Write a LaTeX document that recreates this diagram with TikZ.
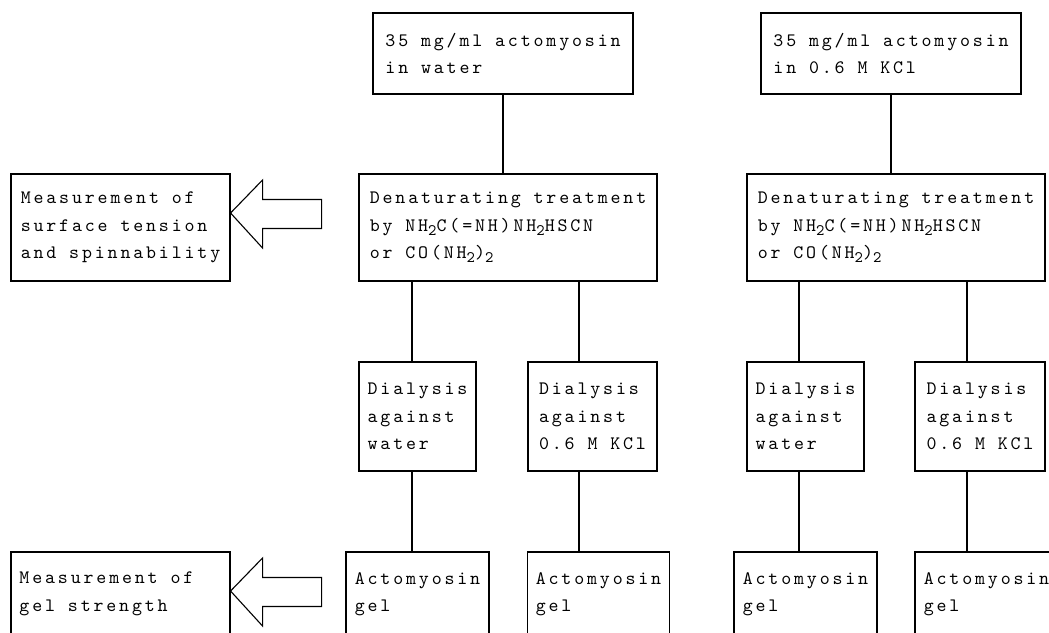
\documentclass[tikz,border=0pt]{standalone}
\usepackage{fontspec}
\usepackage{tikz}
\newfontfamily\boxfont{lmmono10-regular.otf}[LetterSpace=15]
\newcommand{\sbs}[1]{\raisebox{-0.5ex}{\fontsize{16}{16}\selectfont #1}}

\begin{document}
\begin{tikzpicture}[x = 1pt, y = 1pt, line width = 1.1pt,
    box/.style = {rectangle, draw, align = left, inner xsep = 8.5pt, inner ysep = 0pt,
        font = \boxfont\fontsize{19}{27.5}\selectfont}]
\useasboundingbox (0,0) rectangle (1049,-632);
\draw (503,-53.5) node[box, minimum width = 260, minimum height = 81](top1){35 mg/ml actomyosin\\in water}
    (891,-53.5) node[box, minimum width = 260, minimum height = 81](top2){35 mg/ml actomyosin\\in 0.6 M KCl}
    (508,-227.5) node[box, minimum width = 298, minimum height = 107](den1){Denaturating treatment\\by NH\sbs{2}C(=NH)NH\sbs{2}HSCN\\or CO(NH\sbs{2})\sbs{2}}
    (896,-227.5) node[box, minimum width = 298, minimum height = 107](den2){Denaturating treatment\\by NH\sbs{2}C(=NH)NH\sbs{2}HSCN\\or CO(NH\sbs{2})\sbs{2}}
    (120.5,-227.5) node[box, minimum width = 219, minimum height = 107](meas1){Measurement of\\surface tension\\and spinnability};
\draw (417.5,-416.5) node[box, minimum width = 117, minimum height = 109](dia1){Dialysis\\against\\water}
    (592.5,-416.5) node[box, minimum width = 129, minimum height = 109](dia2){Dialysis\\against\\0.6 M KCl}
    (805.5,-416.5) node[box, minimum width = 117, minimum height = 109](dia3){Dialysis\\against\\water}
    (980,-416.5) node[box, minimum width = 130, minimum height = 109](dia4){Dialysis\\against\\0.6 M KCl};
\draw (417.5,-594) node[box, minimum width = 143, minimum height = 84](gel1){Actomyosin\\gel}
    (598.5,-594) node[box, minimum width = 141, minimum height = 84](gel2){Actomyosin\\gel}
    (805.5,-594) node[box, minimum width = 143, minimum height = 84](gel3){Actomyosin\\gel}
    (986.5,-594) node[box, minimum width = 143, minimum height = 84](gel4){Actomyosin\\gel}
    (120.5,-594) node[box, minimum width = 219, minimum height = 84](meas2){\makebox[202pt][l]{Measurement of}\\gel strength};
% columns of the connectors
\coordinate (c1) at (412,0);
\coordinate (c2) at (579,0);
\coordinate (c3) at (799,0);
\coordinate (c4) at (967,0);
\draw [-] (top1.south) -- (top1.south |- den1.north);
\draw [-] (top2.south) -- (top2.south |- den2.north);
\draw [-] (den1.south -| c1) -- (dia1.north -| c1);
\draw [-] (den1.south -| c2) -- (dia2.north -| c2);
\draw [-] (den2.south -| c3) -- (dia3.north -| c3);
\draw [-] (den2.south -| c4) -- (dia4.north -| c4);
\draw [-] (dia1.south -| c1) -- (gel1.north -| c1);
\draw [-] (dia2.south -| c2) -- (gel2.north -| c2);
\draw [-] (dia3.south -| c3) -- (gel3.north -| c3);
\draw [-] (dia4.south -| c4) -- (gel4.north -| c4);
% hollow arrows
\draw ([yshift = 14.5]meas1.east) -- ++(32,33) -- ++(0,-19.5) -- ++(59,0) -- ++(0,-29) -- ++(-59,0) -- ++(0,-19.5) -- cycle;
\draw ([yshift = 3]meas2.east) -- ++(32,33) -- ++(0,-19.5) -- ++(59,0) -- ++(0,-29) -- ++(-59,0) -- ++(0,-19.5) -- cycle;
\end{tikzpicture}
\end{document}
